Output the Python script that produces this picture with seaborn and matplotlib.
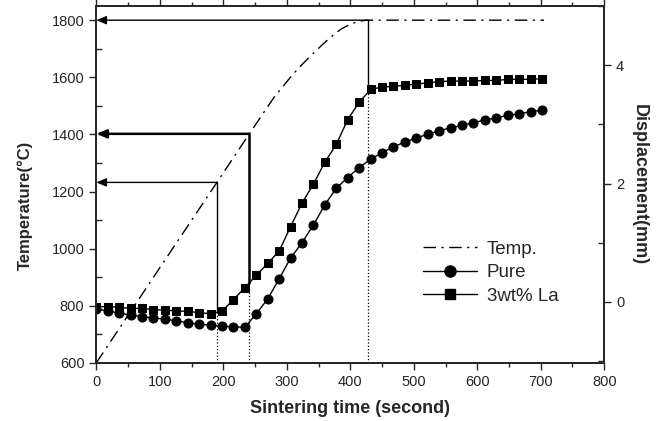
import numpy as np
import pandas as pd
import seaborn as sns
import matplotlib.pyplot as plt
from matplotlib.lines import Line2D
from matplotlib.ticker import MultipleLocator

# temperature profile (left axis)
temp_time = [0, 100, 190, 241, 280, 305, 321, 340, 355, 370, 385, 400, 412, 425, 705]
temp_val = [600, 933, 1232, 1402, 1530, 1598, 1638, 1680, 1712, 1742, 1768, 1786, 1795, 1800, 1800]

# displacement (right axis), one point every ~18 s
disp_time = [0, 18, 36, 54, 72, 90, 108, 126, 144, 162, 180, 198, 216, 234, 252,
             270, 288, 306, 324, 342, 360, 378, 396, 414, 432, 450, 468, 486, 504,
             522, 540, 558, 576, 594, 612, 630, 648, 666, 684, 702]
pure = [-0.12, -0.15, -0.19, -0.22, -0.25, -0.27, -0.29, -0.32, -0.35, -0.38,
        -0.39, -0.41, -0.42, -0.43, -0.20, 0.05, 0.39, 0.74, 1.00, 1.30,
        1.64, 1.92, 2.10, 2.27, 2.41, 2.52, 2.62, 2.70, 2.77, 2.83,
        2.89, 2.94, 2.98, 3.03, 3.07, 3.11, 3.15, 3.18, 3.21, 3.24]
la3 = [-0.08, -0.08, -0.09, -0.11, -0.11, -0.13, -0.14, -0.15, -0.16, -0.18,
       -0.20, -0.16, 0.04, 0.24, 0.45, 0.65, 0.86, 1.27, 1.67, 1.99,
       2.36, 2.66, 3.08, 3.37, 3.59, 3.63, 3.64, 3.66, 3.68, 3.70,
       3.72, 3.73, 3.73, 3.73, 3.74, 3.74, 3.76, 3.76, 3.76, 3.77]

# hold points: time, temperature
mark_time = [190, 241, 428]
mark_temp = [1232, 1402, 1800]
mark_lw = [1.0, 1.8, 1.0]

sns.set_style("ticks")
plt.rcParams['font.family'] = ['Liberation Sans', 'DejaVu Sans']

temp_df = pd.DataFrame({"t": temp_time, "T": temp_val})
disp_df = pd.DataFrame({"t": disp_time, "pure": pure, "la": la3})

fig, ax = plt.subplots(figsize=(6.64, 4.21), dpi=100)
ax2 = ax.twinx()

dashdot = (0, (9, 4, 1.5, 4))
sns.lineplot(data=temp_df, x="t", y="T", ax=ax, color="black", lw=1.0,
             linestyle=dashdot)
sns.lineplot(data=disp_df, x="t", y="pure", ax=ax2, color="black", lw=1.0,
             marker="o", markersize=6.5, markeredgecolor="black")
sns.lineplot(data=disp_df, x="t", y="la", ax=ax2, color="black", lw=1.0,
             marker="s", markersize=6, markeredgecolor="black")

ax.set_xlim(0, 800)
ax.set_ylim(600, 1850)
ax2.set_ylim(-1.03, 5.0)

def d2T(d):
    lo, hi = ax2.get_ylim()
    return 600 + (d - lo) / (hi - lo) * 1250

for t, T, lw in zip(mark_time, mark_temp, mark_lw):
    d = np.interp(t, disp_time, la3)
    ax.annotate("", xy=(0, T), xytext=(t, T),
                arrowprops=dict(arrowstyle="-|>,head_length=0.6,head_width=0.25",
                                color="black", lw=lw, shrinkA=0, shrinkB=0))
    ax.plot([t, t], [T, d2T(d)], color="black", lw=lw)
    ax.plot([t, t], [600, d2T(d)], color="black", lw=0.9, linestyle=":")

ax.set_xlabel("Sintering time (second)", fontsize=13, fontweight="bold",
              labelpad=8)
ax.set_ylabel("Temperature(°C)", fontsize=12, fontweight="bold")
ax.yaxis.set_label_coords(-0.125, 0.44)
ax2.set_ylabel("Displacement(mm)", fontsize=13, fontweight="bold",
               rotation=270, labelpad=17)

ax.xaxis.set_major_locator(MultipleLocator(100))
ax.xaxis.set_minor_locator(MultipleLocator(50))
ax.yaxis.set_major_locator(MultipleLocator(200))
ax.yaxis.set_minor_locator(MultipleLocator(100))
ax2.yaxis.set_major_locator(MultipleLocator(2))
ax2.yaxis.set_minor_locator(MultipleLocator(1))

ax.tick_params(axis="x", which="both", direction="out", top=True, labelsize=10.5)
ax.tick_params(axis="x", which="major", length=5, width=1)
ax.tick_params(axis="x", which="minor", length=3, width=1)
ax.tick_params(axis="y", which="major", direction="out", length=5, width=1,
               labelsize=10.5)
ax.tick_params(axis="y", which="minor", direction="in", length=4, width=1)
ax2.tick_params(axis="y", which="major", direction="out", length=5, width=1,
                labelsize=10.5)
ax2.tick_params(axis="y", which="minor", direction="in", length=4, width=1)

for a in (ax, ax2):
    for s in a.spines.values():
        s.set_visible(True)
        s.set_linewidth(1.3)

handles = [
    Line2D([], [], color="black", lw=1.0, linestyle=dashdot),
    Line2D([], [], color="black", lw=1.0, marker="o", markersize=8),
    Line2D([], [], color="black", lw=1.0, marker="s", markersize=7.5),
]
ax2.legend(handles, ["Temp.", "Pure", "3wt% La"], frameon=False, fontsize=13.5,
           loc="upper left", bbox_to_anchor=(0.61, 0.39), handlelength=2.9,
           labelspacing=0.35, handletextpad=0.5)

fig.subplots_adjust(left=0.145, right=0.91, top=0.986, bottom=0.138)
fig.savefig("out.png", dpi=100)
